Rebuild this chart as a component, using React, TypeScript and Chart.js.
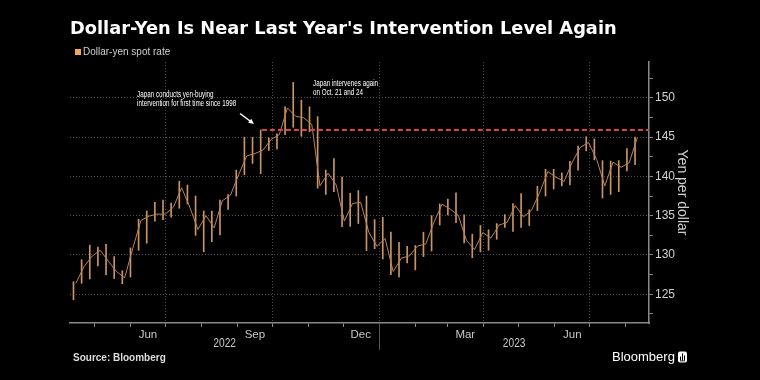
import React, { useEffect, useRef } from 'react';
import { Chart, registerables } from 'chart.js';

Chart.register(...registerables);

// ---------- DATA (weekly dollar-yen: week start, high, low, close) ----------
const weekStarts = [
  '2022-04-11', '2022-04-18', '2022-04-25', '2022-05-02', '2022-05-09', '2022-05-16', '2022-05-23', '2022-05-30',
  '2022-06-06', '2022-06-13', '2022-06-20', '2022-06-27', '2022-07-04', '2022-07-11', '2022-07-18', '2022-07-25',
  '2022-08-01', '2022-08-08', '2022-08-15', '2022-08-22', '2022-08-29', '2022-09-05', '2022-09-12', '2022-09-19',
  '2022-09-26', '2022-10-03', '2022-10-10', '2022-10-17', '2022-10-24', '2022-10-31', '2022-11-07', '2022-11-14',
  '2022-11-21', '2022-11-28', '2022-12-05', '2022-12-12', '2022-12-19', '2022-12-26', '2023-01-02', '2023-01-09',
  '2023-01-16', '2023-01-23', '2023-01-30', '2023-02-06', '2023-02-13', '2023-02-20', '2023-02-27', '2023-03-06',
  '2023-03-13', '2023-03-20', '2023-03-27', '2023-04-03', '2023-04-10', '2023-04-17', '2023-04-24', '2023-05-01',
  '2023-05-08', '2023-05-15', '2023-05-22', '2023-05-29', '2023-06-05', '2023-06-12', '2023-06-19', '2023-06-26',
  '2023-07-03', '2023-07-10', '2023-07-17', '2023-07-24', '2023-07-31', '2023-08-07',
];
const weekHigh = [
  126.6, 129.4, 131.25, 131.0, 131.35, 129.8, 128.0, 130.9,
  134.55, 135.6, 136.7, 137.0, 136.6, 139.4, 138.9, 137.5,
  135.6, 135.6, 137.0, 137.7, 140.8, 144.99, 144.96, 145.9,
  144.9, 145.4, 148.85, 151.95, 149.7, 148.85, 147.6, 140.8,
  142.25, 139.9, 137.85, 138.2, 137.5, 134.5, 134.8, 132.9,
  131.6, 131.1, 131.2, 132.9, 135.0, 136.5, 137.1, 137.9,
  135.1, 132.65, 133.75, 133.2, 134.0, 135.15, 136.55, 137.8,
  135.75, 138.75, 140.9, 140.9, 140.45, 141.9, 143.85, 145.05,
  144.75, 142.0, 141.95, 142.0, 143.55, 145.0,
];
const weekLow = [
  124.3, 126.4, 126.95, 128.6, 127.5, 127.0, 126.35, 127.2,
  130.6, 131.5, 134.3, 134.5, 134.8, 135.95, 136.5, 132.5,
  130.4, 131.7, 132.55, 135.8, 137.5, 140.2, 141.65, 140.35,
  143.3, 143.5, 145.3, 146.25, 145.1, 145.7, 138.5, 137.7,
  138.05, 133.6, 133.65, 134.0, 130.55, 130.8, 129.5, 127.5,
  127.2, 129.0, 128.1, 129.8, 130.5, 133.8, 135.1, 134.1,
  131.55, 129.65, 130.4, 130.6, 132.0, 133.5, 133.0, 133.5,
  133.75, 135.65, 137.5, 138.4, 138.8, 138.9, 140.8, 143.25,
  142.1, 137.25, 137.7, 138.05, 140.7, 141.5,
];
const weekClose = [
  126.4, 128.5, 129.85, 130.6, 129.2, 127.9, 127.1, 130.85,
  134.4, 134.95, 135.2, 135.2, 136.1, 138.55, 136.1, 133.25,
  135.0, 133.45, 136.9, 137.6, 140.2, 142.6, 142.9, 143.35,
  144.7, 145.3, 148.7, 147.65, 147.45, 146.6, 138.8, 140.4,
  138.9, 134.3, 136.55, 136.7, 132.9, 131.1, 132.1, 127.9,
  129.6, 129.9, 131.15, 131.4, 134.15, 136.45, 135.85, 135.05,
  131.85, 130.7, 132.85, 132.15, 133.8, 134.15, 136.3, 134.85,
  135.7, 137.95, 140.6, 139.9, 139.35, 141.8, 143.7, 144.3,
  142.15, 138.8, 141.8, 141.15, 141.75, 144.95,
];

const interventionLevel = 145.9;
const interventionDate = '2022-09-22';
const axisStartDate = '2022-04-10';
const axisEndDate = '2023-08-21';

const monthTickDates = [
  '2022-05-01', '2022-06-01', '2022-07-01', '2022-08-01', '2022-09-01', '2022-10-01', '2022-11-01', '2022-12-01',
  '2023-01-01', '2023-02-01', '2023-03-01', '2023-04-01', '2023-05-01', '2023-06-01', '2023-07-01', '2023-08-01',
];
const quarterGridDates = ['2022-07-01', '2022-10-01', '2023-01-01', '2023-04-01', '2023-07-01'];
const monthLabelDates = ['2022-06-16', '2022-09-16', '2022-12-16', '2023-03-16', '2023-06-16'];
const monthLabels = ['Jun', 'Sep', 'Dec', 'Mar', 'Jun'];
const yearLabels = ['2022', '2023'];
const yearBoundaryDate = '2023-01-01';

const yTickValues = [122.5, 125, 127.5, 130, 132.5, 135, 137.5, 140, 142.5, 145, 147.5, 150, 152.5];
const yMin = 121.35;
const yMax = 154.55;

const TITLE = "Dollar-Yen Is Near Last Year's Intervention Level Again";
const LEGEND_LABEL = 'Dollar-yen spot rate';
const NOTE_1 = ['Japan conducts yen-buying', 'intervention for first time since 1998'];
const NOTE_2 = ['Japan intervenes again', 'on Oct. 21 and 24'];
const SOURCE = 'Source: Bloomberg';
const Y_TITLE = 'Yen per dollar';

// ---------- helpers ----------
const DAY0 = Date.UTC(2022, 0, 1);
function dayIndex(iso: string): number {
  const [y, m, d] = iso.split('-').map(Number);
  return (Date.UTC(y, m - 1, d) - DAY0) / 86400000;
}

const SANS = '"Liberation Sans", Arial, sans-serif';
const TITLE_FONT = '"DejaVu Sans", "Liberation Sans", sans-serif';

const monthTickDays = monthTickDates.map(dayIndex);
const quarterDays = quarterGridDates.map(dayIndex);
const labelDays = monthLabelDates.map(dayIndex);

function narrowText(ctx: CanvasRenderingContext2D, text: string, x: number, y: number, sx: number) {
  ctx.save();
  ctx.translate(x, y);
  ctx.scale(sx, 1);
  ctx.fillText(text, 0, 0);
  ctx.restore();
}

const overlayPlugin = {
  id: 'overlay',
  beforeDraw(chart: any) {
    const { ctx, width, height } = chart;
    ctx.save();
    ctx.fillStyle = '#000';
    ctx.fillRect(0, 0, width, height);
    ctx.restore();
  },
  afterDraw(chart: any) {
    const { ctx } = chart;
    const xs = chart.scales.x;
    const area = chart.chartArea;
    ctx.save();
    ctx.textAlign = 'left';
    ctx.textBaseline = 'middle';

    // title (fitted to the reference width)
    ctx.fillStyle = '#ffffff';
    ctx.font = `bold 18px ${TITLE_FONT}`;
    const tw = ctx.measureText(TITLE).width;
    const tsize = Math.min(22, 18 * 547 / tw);
    ctx.font = `bold ${tsize.toFixed(2)}px ${TITLE_FONT}`;
    ctx.fillText(TITLE, 70, 29);

    // legend
    ctx.fillStyle = '#f2a55e';
    ctx.fillRect(75, 49, 6, 6);
    ctx.fillStyle = '#cfcfcf';
    ctx.font = `10px ${SANS}`;
    ctx.fillText(LEGEND_LABEL, 83, 52.5);

    // annotations
    ctx.fillStyle = '#ffffff';
    ctx.font = `8.5px ${SANS}`;
    narrowText(ctx, NOTE_1[0], 137, 94.5, 0.74);
    narrowText(ctx, NOTE_1[1], 137, 104, 0.74);
    narrowText(ctx, NOTE_2[0], 313, 83.5, 0.74);
    narrowText(ctx, NOTE_2[1], 313, 93, 0.74);

    // arrow
    const ax0 = 240, ay0 = 113.5, ax1 = 254, ay1 = 124;
    ctx.strokeStyle = '#ffffff';
    ctx.lineWidth = 1.5;
    ctx.beginPath();
    ctx.moveTo(ax0, ay0);
    ctx.lineTo(ax1 - 2, ay1 - 1.5);
    ctx.stroke();
    const ang = Math.atan2(ay1 - ay0, ax1 - ax0);
    ctx.fillStyle = '#ffffff';
    ctx.beginPath();
    ctx.moveTo(ax1, ay1);
    ctx.lineTo(ax1 - 6 * Math.cos(ang - 0.45), ay1 - 6 * Math.sin(ang - 0.45));
    ctx.lineTo(ax1 - 6 * Math.cos(ang + 0.45), ay1 - 6 * Math.sin(ang + 0.45));
    ctx.closePath();
    ctx.fill();

    // year labels and boundary
    const bx = xs.getPixelForValue(dayIndex(yearBoundaryDate));
    ctx.strokeStyle = '#555';
    ctx.lineWidth = 1;
    ctx.beginPath();
    ctx.moveTo(Math.round(bx) + 0.5, area.bottom);
    ctx.lineTo(Math.round(bx) + 0.5, area.bottom + 27);
    ctx.stroke();
    ctx.fillStyle = '#c8c8c8';
    ctx.font = `12px ${SANS}`;
    ctx.textAlign = 'center';
    const c1 = (xs.getPixelForValue(xs.min) + bx) / 2;
    const c2 = (bx + xs.getPixelForValue(xs.max)) / 2;
    narrowText(ctx, yearLabels[0], c1, 344, 0.85);
    narrowText(ctx, yearLabels[1], c2, 344, 0.85);

    // source
    ctx.textAlign = 'left';
    ctx.fillStyle = '#dddddd';
    ctx.font = `bold 10px ${SANS}`;
    ctx.fillText(SOURCE, 73, 358);

    // Bloomberg logo
    ctx.fillStyle = '#ffffff';
    ctx.font = `13px ${SANS}`;
    ctx.fillText('Bloomberg', 612, 357);
    ctx.beginPath();
    const lx = 678, ly = 351.5, lw = 9, lh = 11;
    ctx.moveTo(lx + 2, ly);
    ctx.lineTo(lx + lw - 2, ly);
    ctx.quadraticCurveTo(lx + lw, ly, lx + lw, ly + 2);
    ctx.lineTo(lx + lw, ly + lh - 2);
    ctx.quadraticCurveTo(lx + lw, ly + lh, lx + lw - 2, ly + lh);
    ctx.lineTo(lx + 2, ly + lh);
    ctx.quadraticCurveTo(lx, ly + lh, lx, ly + lh - 2);
    ctx.lineTo(lx, ly + 2);
    ctx.quadraticCurveTo(lx, ly, lx + 2, ly);
    ctx.fill();
    ctx.fillStyle = '#000';
    ctx.fillRect(lx + 2, ly + 5, 1, 4);
    ctx.fillRect(lx + 4, ly + 2, 1, 7);
    ctx.fillRect(lx + 6, ly + 4, 1, 5);
    ctx.fillRect(lx + 2, ly + 9, 5, 0.8);

    ctx.restore();
  },
};

export default function App() {
  const canvasRef = useRef<HTMLCanvasElement | null>(null);

  useEffect(() => {
    document.body.style.margin = '0';
    document.body.style.background = '#000';
    const canvas = canvasRef.current;
    if (!canvas) return;

    const rangeData = weekStarts.map((w, i) => ({ x: dayIndex(w) + 2, y: [weekLow[i], weekHigh[i]] }));
    const closeData = weekStarts.map((w, i) => ({ x: dayIndex(w) + 4, y: weekClose[i] }));
    const levelData = [
      { x: dayIndex(interventionDate), y: interventionLevel },
      { x: dayIndex(axisEndDate), y: interventionLevel },
    ];

    const chart = new Chart(canvas, {
      type: 'bar',
      data: {
        datasets: [
          {
            type: 'line',
            label: 'Intervention level',
            data: levelData,
            borderColor: '#d8434b',
            borderWidth: 2,
            borderDash: [5, 3],
            pointRadius: 0,
            order: 0,
          } as any,
          {
            type: 'line',
            label: LEGEND_LABEL + ' close',
            data: closeData,
            borderColor: '#b98259',
            borderWidth: 1,
            pointRadius: 0,
            tension: 0,
            order: 1,
          } as any,
          {
            type: 'bar',
            label: LEGEND_LABEL,
            data: rangeData,
            backgroundColor: '#c99468',
            borderWidth: 0,
            barThickness: 1,
            grouped: false,
            order: 2,
          } as any,
        ],
      },
      options: {
        responsive: false,
        animation: false,
        devicePixelRatio: 1,
        layout: { padding: { left: 70, top: 62, right: 0, bottom: 0 } },
        plugins: { legend: { display: false }, tooltip: { enabled: false }, title: { display: false } },
        scales: {
          x: {
            type: 'linear',
            min: dayIndex(axisStartDate),
            max: dayIndex(axisEndDate),
            offset: false,
            afterBuildTicks: (scale: any) => {
              const vals = [...monthTickDays, ...labelDays].sort((a, b) => a - b);
              scale.ticks = vals.map((v) => ({ value: v }));
            },
            afterFit: (scale: any) => {
              scale.height = 57;
            },
            grid: {
              offset: false,
              drawOnChartArea: true,
              color: (c: any) => (c.tick && quarterDays.includes(c.tick.value) ? '#4a4a4a' : 'rgba(0,0,0,0)'),
              tickColor: (c: any) => (c.tick && monthTickDays.includes(c.tick.value) ? '#8a8a8a' : 'rgba(0,0,0,0)'),
              tickLength: 4,
              lineWidth: 1,
            },
            border: { display: true, color: '#8a8a8a', width: 1.5, dash: [1, 2] },
            ticks: {
              autoSkip: false,
              maxRotation: 0,
              minRotation: 0,
              padding: 1,
              color: '#c8c8c8',
              font: { family: SANS, size: 11.5 },
              callback: (v: any) => {
                const i = labelDays.indexOf(Number(v));
                return i >= 0 ? monthLabels[i] : '';
              },
            },
          },
          y: {
            type: 'linear',
            position: 'right',
            min: yMin,
            max: yMax,
            afterBuildTicks: (scale: any) => {
              scale.ticks = yTickValues.map((v) => ({ value: v }));
            },
            afterFit: (scale: any) => {
              scale.width = 111;
            },
            grid: {
              color: (c: any) => (c.tick && c.tick.value % 5 === 0 ? '#4a4a4a' : 'rgba(0,0,0,0)'),
              tickColor: '#8a8a8a',
              tickLength: 4,
              lineWidth: 1,
            },
            border: { display: true, color: '#8a8a8a', width: 1.5, dash: [1, 2] },
            ticks: {
              autoSkip: false,
              padding: 2,
              color: '#d0d0d0',
              font: { family: SANS, size: 12 },
              callback: (v: any) => (Number(v) % 5 === 0 ? String(v) : ''),
            },
            title: {
              display: true,
              text: Y_TITLE,
              color: '#d0d0d0',
              font: { family: SANS, size: 14 },
              padding: { top: 70, bottom: 0 },
            },
          },
        },
      },
      plugins: [overlayPlugin],
    });

    return () => chart.destroy();
  }, []);

  return (
    <div style={{ width: 760, height: 380, background: '#000' }}>
      <canvas ref={canvasRef} width={760} height={380} style={{ display: 'block' }} />
    </div>
  );
}
